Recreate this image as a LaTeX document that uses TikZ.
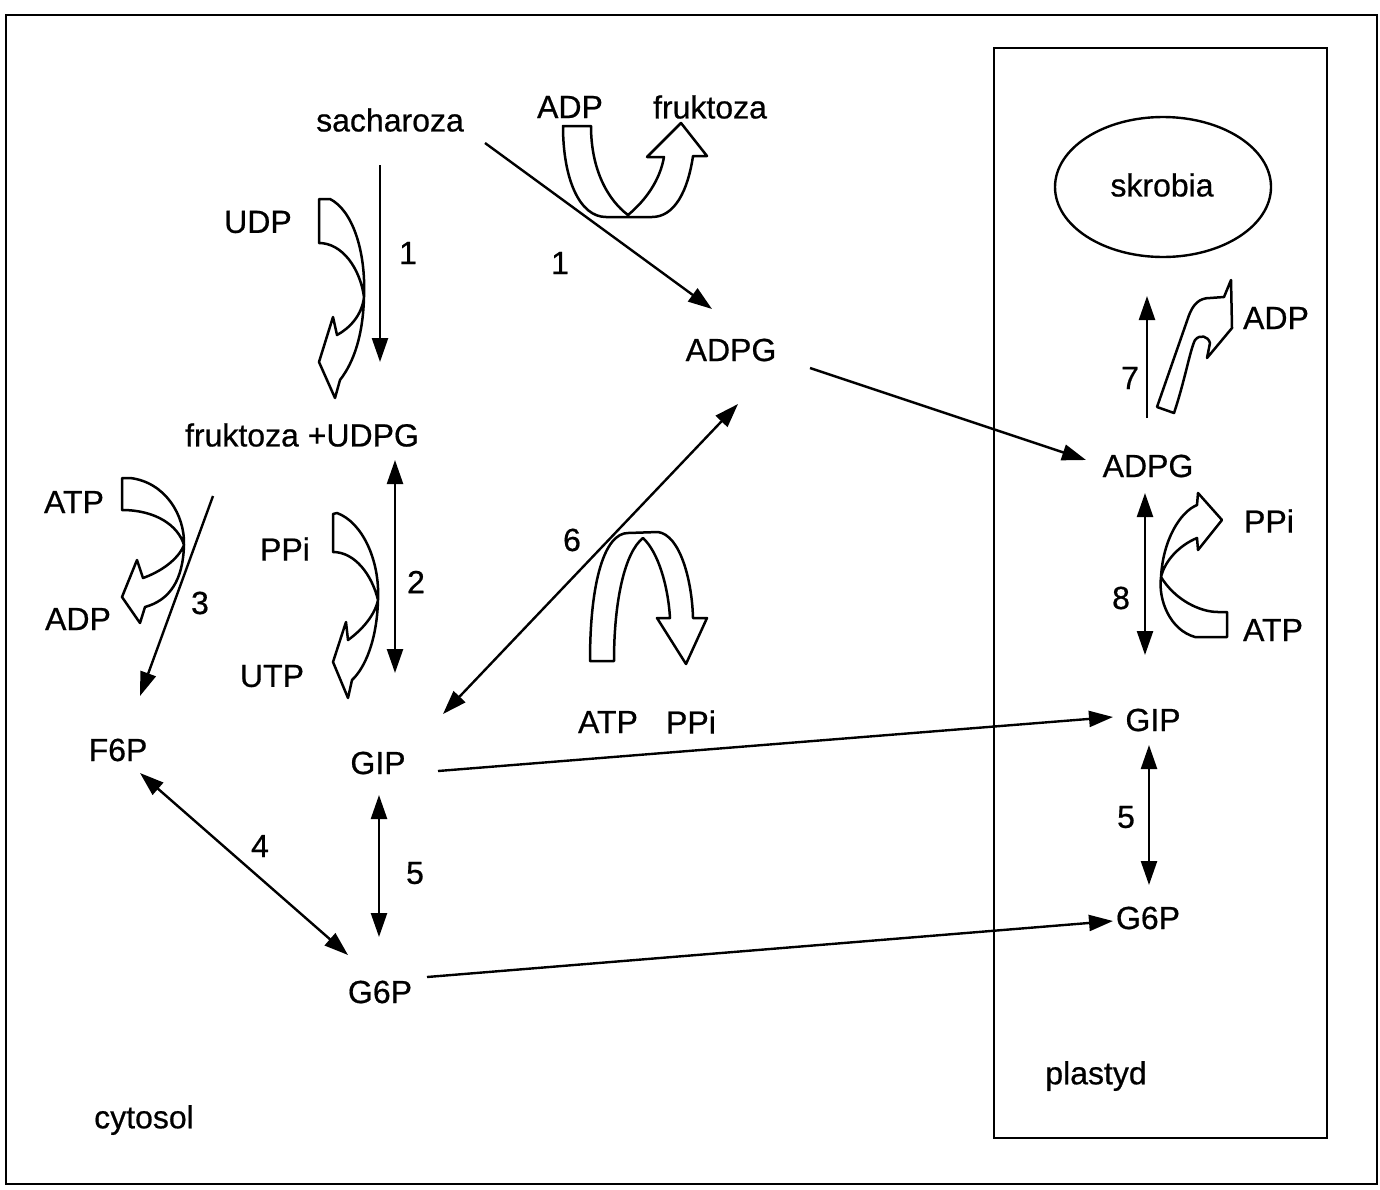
\documentclass[tikz,border=0pt]{standalone}
\usepackage{fontspec}
\setmainfont{Liberation Sans}
\newfontfamily\lblfont[FakeBold=0.6]{Liberation Sans}
\usetikzlibrary{arrows.meta,shapes.geometric}
\begin{document}
\begin{tikzpicture}[x=1pt,y=-1pt,
  lbl/.style={inner sep=0pt,font=\lblfont\fontsize{32}{36}\selectfont},
  conn/.style={line width=2.4pt,-{Triangle[length=24pt,width=16pt]}},
  dconn/.style={line width=2.4pt,{Triangle[length=24pt,width=16pt]}-{Triangle[length=24pt,width=16pt]}},
  blockarrow/.style={line width=2.5pt,fill=white,line join=round},
  frame/.style={line width=2.5pt}]
\useasboundingbox (0,0) rectangle (1380,1189);
\draw[frame] (6,15) rectangle (1377,1184);
\draw[frame] (994,48) rectangle (1327,1138);

% labels
\node[lbl] (sach) at (390,120) {sacharoza};
\node[lbl] (adpT) at (570,107) {ADP};
\node[lbl] (frT) at (710,107) {fruktoza};
\node[lbl] (udp) at (258,222) {UDP};
\node[lbl] (n1a) at (408,253) {1};
\node[lbl] (n1b) at (560,263) {1};
\node[lbl] (adpgM) at (731,350) {ADPG};
\node[lbl] (frudpg) at (302,435) {fruktoza +UDPG};
\node[lbl] (atpL) at (74,502) {ATP};
\node[lbl] (ppiL) at (285,549) {PPi};
\node[lbl] (n2) at (416,582) {2};
\node[lbl] (n3) at (200,603) {3};
\node[lbl] (adpL) at (78,619) {ADP};
\node[lbl] (n6) at (572,540) {6};
\node[lbl] (utp) at (272,676) {UTP};
\node[lbl] (f6p) at (118,750) {F6P};
\node[lbl] (gip) at (378,763) {GIP};
\node[lbl] (atpB) at (608,722) {ATP};
\node[lbl] (ppiB) at (691,722) {PPi};
\node[lbl] (n4) at (260,846) {4};
\node[lbl] (n5) at (415,873) {5};
\node[lbl] (g6p) at (380,992) {G6P};
\node[lbl] (cyt) at (144,1120) {cytosol};
\node[draw,line width=2.4pt,ellipse,minimum width=216pt,minimum height=140pt,inner sep=0pt] (skr) at (1163,187) {};
\node[lbl] (skrt) at (1162,185) {skrobia};
\node[lbl] (adpR) at (1276,318) {ADP};
\node[lbl] (n7) at (1130,378) {7};
\node[lbl] (adpgR) at (1148,466) {ADPG};
\node[lbl] (ppiR) at (1269,521) {PPi};
\node[lbl] (n8) at (1121,598) {8};
\node[lbl] (atpR) at (1273,630) {ATP};
\node[lbl] (gipR) at (1153,720) {GIP};
\node[lbl] (n5r) at (1126,817) {5};
\node[lbl] (g6pR) at (1148,918) {G6P};
\node[lbl] (pl) at (1096,1076) {plastyd};

% connector end points
\coordinate (s1) at (380,165); \coordinate (e1) at (380,362);
\coordinate (s1b) at (485,143); \coordinate (e1b) at (712,309);
\coordinate (sAD) at (810,368); \coordinate (eAD) at (1086,460);
\coordinate (s2) at (395,460); \coordinate (e2) at (395,673);
\coordinate (s3) at (213,496); \coordinate (e3) at (140,696);
\coordinate (s6) at (738,404); \coordinate (e6) at (443,714);
\coordinate (s4) at (140,773); \coordinate (e4) at (348,955);
\coordinate (s5) at (379,795); \coordinate (e5) at (379,937);
\coordinate (sG) at (438,771); \coordinate (eG) at (1113,717);
\coordinate (sG6) at (427,977); \coordinate (eG6) at (1113,921);
\coordinate (s7) at (1147,418); \coordinate (e7) at (1147,296);
\coordinate (s8) at (1145,493); \coordinate (e8) at (1145,655);
\coordinate (s5r) at (1149,745); \coordinate (e5r) at (1149,885);

\draw[conn] (s1) -- (e1);
\draw[conn] (s1b) -- (e1b);
\draw[conn] (sAD) -- (eAD);
\draw[dconn] (s2) -- (e2);
\draw[conn] (s3) -- (e3);
\draw[dconn] (s6) -- (e6);
\draw[dconn] (s4) -- (e4);
\draw[dconn] (s5) -- (e5);
\draw[conn] (sG) -- (eG);
\draw[conn] (sG6) -- (eG6);
\draw[conn] (s7) -- (e7);
\draw[dconn] (s8) -- (e8);
\draw[dconn] (s5r) -- (e5r);

% block arrows
% ADP -> fruktoza (top)
\draw[blockarrow] (563,126) -- (591,126)
  .. controls (591,170) and (608,200) .. (628,215)
  .. controls (646,200) and (660,180) .. (664,157)
  -- (647,157) -- (681,123) -- (707,156) -- (693,156)
  .. controls (688,190) and (675,217) .. (652,217)
  -- (606,217)
  .. controls (580,217) and (563,180) .. cycle;
% UDP
\draw[blockarrow] (319,199) -- (330,199)
  .. controls (352,210) and (366,250) .. (364,297)
  .. controls (363,335) and (354,362) .. (340,380)
  -- (335,398) -- (319,362) -- (333,317) -- (337,335)
  .. controls (350,328) and (362,315) .. (364,297)
  .. controls (360,268) and (342,243) .. (319,243) -- cycle;
% PPi / UTP
\draw[blockarrow] (333,514) -- (337,513)
  .. controls (362,522) and (380,560) .. (378,600)
  .. controls (377,640) and (365,668) .. (352,680)
  -- (348,698) -- (333,662) -- (346,622) -- (348,640)
  .. controls (362,630) and (375,615) .. (378,600)
  .. controls (372,575) and (355,552) .. (333,552) -- cycle;
% ATP / ADP left
\draw[blockarrow] (122,478) -- (130,478)
  .. controls (165,482) and (185,515) .. (184,545)
  .. controls (183,580) and (170,600) .. (145,607)
  -- (140,623) -- (122,597) -- (137,560) -- (143,578)
  .. controls (160,572) and (178,560) .. (184,545)
  .. controls (178,525) and (155,510) .. (122,510) -- cycle;
% ATP / PPi (reaction 6)
\draw[blockarrow] (590,661)
  .. controls (590,580) and (605,533) .. (628,533)
  -- (658,532)
  .. controls (680,535) and (692,580) .. (693,618)
  -- (707,618) -- (686,664) -- (657,618) -- (670,618)
  .. controls (668,585) and (658,552) .. (643,538)
  .. controls (625,552) and (614,600) .. (614,661) -- cycle;
% ADP right (reaction 7)
\draw[blockarrow] (1157,407) -- (1188,318)
  .. controls (1193,303) and (1200,298) .. (1210,298)
  -- (1224,297) -- (1231,280) -- (1232,328) -- (1207,358) -- (1210,343)
  .. controls (1208,336) and (1200,334) .. (1195,340)
  .. controls (1190,350) and (1185,380) .. (1174,413) -- cycle;
% ATP -> PPi right (reaction 8)
\draw[blockarrow] (1227,612) -- (1227,637) -- (1195,637)
  .. controls (1170,630) and (1158,600) .. (1161,577)
  .. controls (1163,540) and (1180,512) .. (1197,505)
  -- (1198,493) -- (1222,520) -- (1198,550) -- (1197,538)
  .. controls (1180,545) and (1165,560) .. (1161,577)
  .. controls (1175,600) and (1200,612) .. (1218,612) -- cycle;
\end{tikzpicture}
\end{document}
